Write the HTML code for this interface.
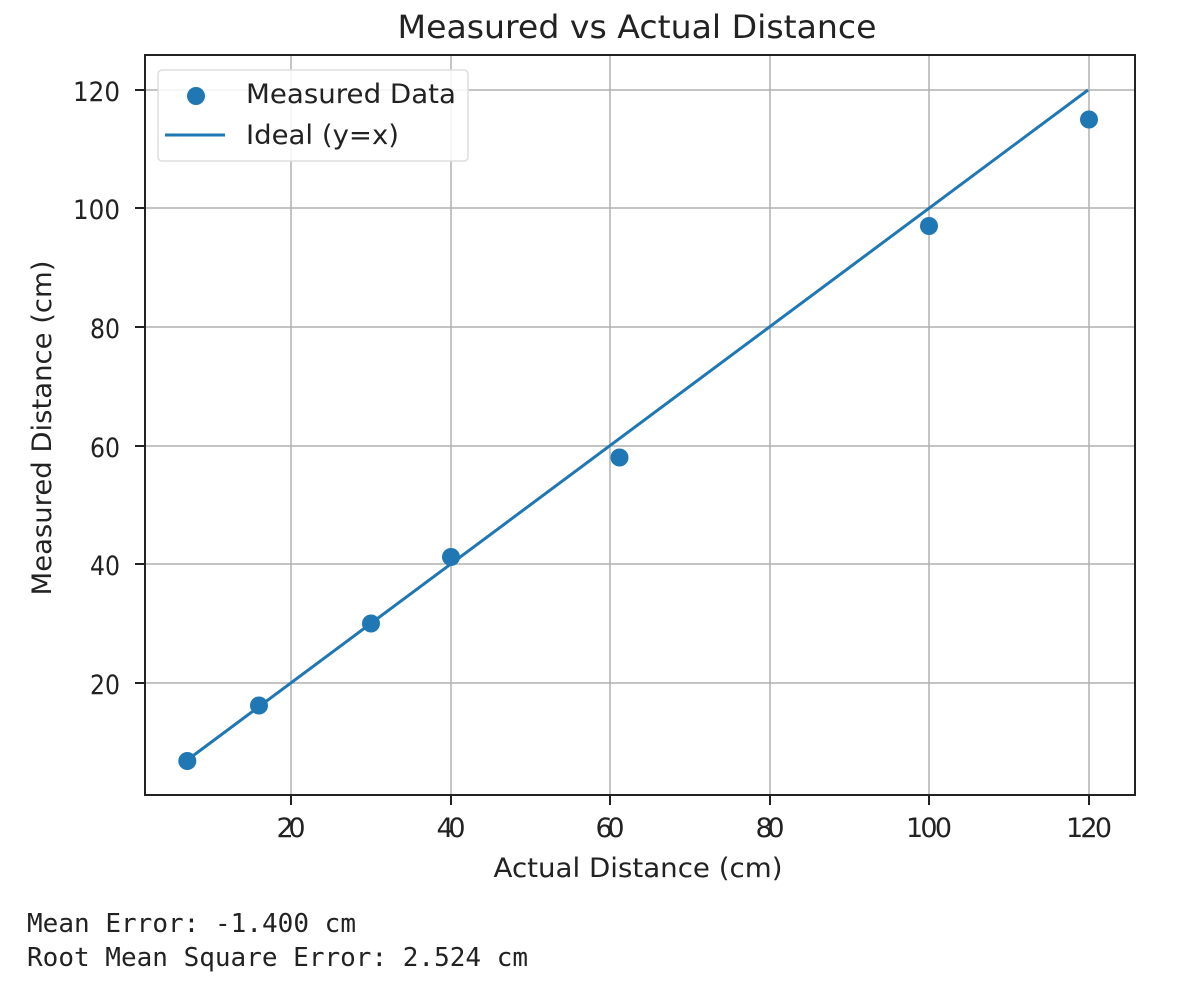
<!DOCTYPE html>
<html><head><meta charset="utf-8"><style>
body{margin:0;background:#fff;width:1182px;height:988px;overflow:hidden}
svg{position:absolute;left:0;top:0}
</style></head><body>
<svg width="1182" height="988" font-family="DejaVu Sans, Liberation Sans, sans-serif" fill="#222">
<text x="637" y="38" font-size="32" text-anchor="middle" textLength="479" lengthAdjust="spacingAndGlyphs">Measured vs Actual Distance</text>
<g stroke="#b0b0b0" stroke-width="1.5">
<line x1="291" y1="55" x2="291" y2="795"/><line x1="451" y1="55" x2="451" y2="795"/>
<line x1="610" y1="55" x2="610" y2="795"/><line x1="770" y1="55" x2="770" y2="795"/>
<line x1="929" y1="55" x2="929" y2="795"/><line x1="1089" y1="55" x2="1089" y2="795"/>
<line x1="145" y1="90" x2="1135" y2="90"/><line x1="145" y1="208" x2="1135" y2="208"/>
<line x1="145" y1="327" x2="1135" y2="327"/><line x1="145" y1="446" x2="1135" y2="446"/>
<line x1="145" y1="564" x2="1135" y2="564"/><line x1="145" y1="683" x2="1135" y2="683"/>
</g>
<line x1="187.3" y1="760" x2="1088" y2="90" stroke="#1f77b4" stroke-width="3"/>
<g fill="#1f77b4">
<circle cx="187.3" cy="761" r="9"/><circle cx="259" cy="705.5" r="9"/>
<circle cx="371" cy="623.5" r="9"/><circle cx="451" cy="557" r="9"/>
<circle cx="619.5" cy="457.5" r="9"/><circle cx="929" cy="226" r="9"/>
<circle cx="1089" cy="119.5" r="9"/>
</g>
<rect x="145" y="55" width="990" height="740" fill="none" stroke="#222" stroke-width="2"/>
<g stroke="#222" stroke-width="2">
<line x1="291" y1="795" x2="291" y2="805"/><line x1="451" y1="795" x2="451" y2="805"/>
<line x1="610" y1="795" x2="610" y2="805"/><line x1="770" y1="795" x2="770" y2="805"/>
<line x1="929" y1="795" x2="929" y2="805"/><line x1="1089" y1="795" x2="1089" y2="805"/>
<line x1="135" y1="90" x2="145" y2="90"/><line x1="135" y1="208" x2="145" y2="208"/>
<line x1="135" y1="327" x2="145" y2="327"/><line x1="135" y1="446" x2="145" y2="446"/>
<line x1="135" y1="564" x2="145" y2="564"/><line x1="135" y1="683" x2="145" y2="683"/>
</g>
<g font-size="27" text-anchor="middle" lengthAdjust="spacingAndGlyphs">
<text x="291" y="837" textLength="29">20</text><text x="451" y="837" textLength="29">40</text><text x="610" y="837" textLength="29">60</text>
<text x="770" y="837" textLength="29">80</text><text x="929" y="837" textLength="46">100</text><text x="1089" y="837" textLength="46">120</text>
</g>
<g font-size="27" text-anchor="end">
<text x="120" y="101" textLength="47" lengthAdjust="spacingAndGlyphs">120</text><text x="120" y="219" textLength="47" lengthAdjust="spacingAndGlyphs">100</text><text x="120" y="338" textLength="30" lengthAdjust="spacingAndGlyphs">80</text>
<text x="120" y="457" textLength="30" lengthAdjust="spacingAndGlyphs">60</text><text x="120" y="575" textLength="30" lengthAdjust="spacingAndGlyphs">40</text><text x="120" y="694" textLength="30" lengthAdjust="spacingAndGlyphs">20</text>
</g>
<text x="638" y="877" font-size="27" text-anchor="middle" textLength="289" lengthAdjust="spacingAndGlyphs">Actual Distance (cm)</text>
<text transform="translate(51,428) rotate(-90)" font-size="27" text-anchor="middle" textLength="335" lengthAdjust="spacingAndGlyphs">Measured Distance (cm)</text>
<rect x="158" y="70" width="310" height="91" rx="4" fill="#fff" fill-opacity="0.85" stroke="#ddd" stroke-width="1.5"/>
<circle cx="196" cy="96" r="9" fill="#1f77b4"/>
<line x1="165" y1="135" x2="225" y2="135" stroke="#1f77b4" stroke-width="3"/>
<text x="246" y="103" font-size="27" textLength="210" lengthAdjust="spacingAndGlyphs">Measured Data</text>
<text x="246" y="144" font-size="27" textLength="153" lengthAdjust="spacingAndGlyphs">Ideal (y=x)</text>
<g font-family="DejaVu Sans Mono, Liberation Mono, monospace" font-size="26">
<text x="27" y="932" textLength="329" lengthAdjust="spacingAndGlyphs">Mean Error: -1.400 cm</text>
<text x="27" y="966" textLength="501" lengthAdjust="spacingAndGlyphs">Root Mean Square Error: 2.524 cm</text>
</g>
</svg>
</body></html>
